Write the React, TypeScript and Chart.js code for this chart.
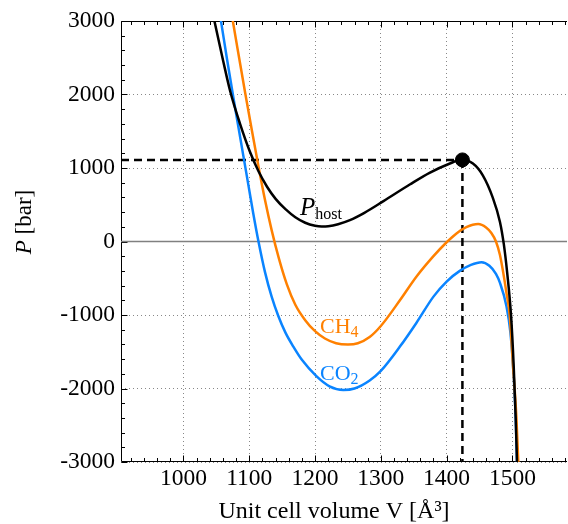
import { useEffect, useRef } from "react";
import { Chart, registerables } from "chart.js";

Chart.register(...registerables);

// ---- data ----
const V_MIN = 905;
const V_MAX = 1583;
const P_MIN = -3000;
const P_MAX = 3000;

const volumeTicks = [1000, 1100, 1200, 1300, 1400, 1500];
const pressureTicks = [-3000, -2000, -1000, 0, 1000, 2000, 3000];

const hostV = [1040, 1047, 1060, 1071, 1086, 1101, 1114, 1127, 1140, 1155, 1170, 1185, 1200, 1210, 1220, 1235, 1253, 1275, 1304, 1344, 1374, 1405, 1422, 1440, 1455, 1470, 1481, 1487, 1492, 1498, 1502, 1505, 1507, 1509];
const hostP = [3300, 3000, 2470, 2045, 1600, 1220, 955, 745, 580, 440, 330, 255, 214, 204, 208, 235, 290, 390, 549, 775, 934, 1061, 1112, 1060, 900, 600, 270, -40, -420, -1016, -1700, -2400, -3000, -3600];

const co2V = [1050, 1057, 1066, 1076, 1084, 1091, 1099, 1106, 1114, 1124, 1134, 1144, 1155, 1167, 1180, 1202, 1222, 1243, 1260, 1283, 1300, 1329, 1354, 1380, 1400, 1420, 1437, 1453, 1465, 1475, 1481, 1491, 1497, 1501, 1505, 1507, 1509];
const co2P = [3400, 3000, 2490, 1950, 1530, 1165, 750, 385, 0, -420, -750, -1010, -1240, -1430, -1610, -1832, -1970, -2020, -2000, -1890, -1760, -1430, -1108, -750, -545, -400, -318, -281, -330, -440, -560, -880, -1240, -1700, -2380, -3000, -3500];

const ch4V = [1068, 1075, 1085, 1094, 1104, 1114, 1124, 1134, 1145, 1157, 1170, 1185, 1200, 1215, 1232, 1250, 1265, 1283, 1300, 1329, 1354, 1380, 1400, 1415, 1430, 1448, 1460, 1468, 1475, 1481, 1486, 1491, 1496, 1501, 1506, 1509, 1511];
const ch4P = [3400, 3000, 2476, 2010, 1510, 1020, 560, 155, -230, -580, -860, -1070, -1220, -1320, -1385, -1402, -1385, -1300, -1150, -800, -480, -200, -10, 110, 195, 237, 190, 115, 0, -180, -420, -700, -1016, -1700, -2380, -3000, -3500];

const markV = 1424;
const markP = 1110;

const HOST_COLOR = "#000000";
const CH4_COLOR = "#ff8000";
const CO2_COLOR = "#0a84ff";
const SERIF = '"Liberation Serif", "Times New Roman", serif';

const toPoints = (xs: number[], ys: number[]) => xs.map((x, i) => ({ x, y: ys[i] }));

const decorPlugin = {
  id: "decor",
  beforeDatasetsDraw(chart: any) {
    const { ctx, chartArea } = chart;
    const { left, right, top, bottom } = chartArea;
    const xs = chart.scales.x;
    const ys = chart.scales.y;
    ctx.save();
    ctx.strokeStyle = "#000";
    ctx.lineWidth = 1;
    ctx.beginPath();
    const L = Math.round(left) + 0.5;
    const B = Math.round(bottom) - 0.5;
    const T = Math.round(top) + 0.5;
    ctx.moveTo(L, T);
    ctx.lineTo(L, B);
    ctx.lineTo(right, B);
    ctx.moveTo(L, T);
    ctx.lineTo(right, T);
    for (let v = 920; v <= V_MAX; v += 20) {
      const major = v % 100 === 0;
      const len = major ? 6 : 3.5;
      const px = Math.round(xs.getPixelForValue(v)) + 0.5;
      ctx.moveTo(px, B);
      ctx.lineTo(px, B - len);
      ctx.moveTo(px, T);
      ctx.lineTo(px, T + len);
    }
    for (let v = P_MIN; v <= P_MAX; v += 200) {
      const major = v % 1000 === 0;
      const len = major ? 6 : 3.5;
      const py = Math.round(ys.getPixelForValue(v)) + 0.5;
      ctx.moveTo(L, py);
      ctx.lineTo(L + len, py);
    }
    ctx.stroke();
    ctx.restore();
  },
  afterDraw(chart: any) {
    const { ctx } = chart;
    ctx.save();
    ctx.textBaseline = "alphabetic";
    ctx.fillStyle = "#000";

    ctx.font = `24px ${SERIF}`;
    ctx.textAlign = "center";
    ctx.fillText("Unit cell volume V [Å³]", 334, 518);

    ctx.save();
    ctx.translate(31, 222);
    ctx.rotate(-Math.PI / 2);
    ctx.textAlign = "left";
    ctx.font = `italic 23px ${SERIF}`;
    const wP = ctx.measureText("P").width;
    ctx.font = `23px ${SERIF}`;
    const wRest = ctx.measureText(" [bar]").width;
    const startX = -(wP + wRest) / 2;
    ctx.font = `italic 23px ${SERIF}`;
    ctx.fillText("P", startX, 0);
    ctx.font = `23px ${SERIF}`;
    ctx.fillText(" [bar]", startX + wP, 0);
    ctx.restore();

    ctx.textAlign = "left";
    ctx.fillStyle = HOST_COLOR;
    ctx.font = `italic 25px ${SERIF}`;
    ctx.fillText("P", 300, 215);
    const wp = ctx.measureText("P").width;
    ctx.font = `16px ${SERIF}`;
    ctx.fillText("host", 300 + wp, 219);

    ctx.fillStyle = CH4_COLOR;
    ctx.font = `22px ${SERIF}`;
    ctx.fillText("CH", 320, 333);
    const wch = ctx.measureText("CH").width;
    ctx.font = `16px ${SERIF}`;
    ctx.fillText("4", 320 + wch, 337);

    ctx.fillStyle = CO2_COLOR;
    ctx.font = `22px ${SERIF}`;
    ctx.fillText("CO", 320, 380);
    const wco = ctx.measureText("CO").width;
    ctx.font = `16px ${SERIF}`;
    ctx.fillText("2", 320 + wco, 384);

    ctx.restore();
  },
};

export default function App() {
  const canvasRef = useRef<HTMLCanvasElement | null>(null);

  useEffect(() => {
    const canvas = canvasRef.current;
    if (!canvas) return;
    const tickFont = { family: SERIF, size: 23.5 };
    const curve = (label: string, xs: number[], ys: number[], color: string) => ({
      label,
      data: toPoints(xs, ys),
      borderColor: color,
      borderWidth: 2.5,
      pointRadius: 0,
      cubicInterpolationMode: "monotone",
    });
    const chart = new Chart(canvas, {
      type: "line",
      data: {
        datasets: [
          {
            label: "mark",
            data: [{ x: markV, y: markP }],
            showLine: false,
            pointRadius: 7,
            pointHoverRadius: 7,
            pointBackgroundColor: "#000",
            pointBorderColor: "#000",
            borderColor: "#000",
          },
          curve("host", hostV, hostP, HOST_COLOR),
          curve("CH4", ch4V, ch4P, CH4_COLOR),
          curve("CO2", co2V, co2P, CO2_COLOR),
          {
            label: "hdash",
            data: [
              { x: V_MIN, y: markP },
              { x: markV, y: markP },
            ],
            borderColor: "#000",
            borderWidth: 2.5,
            borderDash: [8, 5],
            pointRadius: 0,
          },
          {
            label: "vdash",
            data: [
              { x: markV, y: markP },
              { x: markV, y: P_MIN },
            ],
            borderColor: "#000",
            borderWidth: 2.5,
            borderDash: [8, 5],
            pointRadius: 0,
          },
          {
            label: "zero",
            data: [
              { x: V_MIN, y: 0 },
              { x: V_MAX, y: 0 },
            ],
            borderColor: "#808080",
            borderWidth: 1.5,
            pointRadius: 0,
          },
        ],
      },
      options: {
        responsive: false,
        animation: false,
        devicePixelRatio: 1,
        layout: { autoPadding: false, padding: { top: 21, right: 1, left: 0, bottom: 0 } },
        plugins: {
          legend: { display: false },
          tooltip: { enabled: false },
          title: { display: false },
        },
        scales: {
          x: {
            type: "linear",
            min: V_MIN,
            max: V_MAX,
            afterBuildTicks: (s: any) => {
              s.ticks = volumeTicks.map((v) => ({ value: v }));
            },
            afterFit: (s: any) => {
              s.height = 62;
              s.paddingLeft = 0;
              s.paddingRight = 0;
            },
            ticks: {
              font: tickFont,
              color: "#000",
              padding: 3,
              maxRotation: 0,
              autoSkip: false,
              callback: (v: any) => String(v),
            },
            grid: { color: "#888", lineWidth: 1, drawTicks: false },
            border: { display: false, dash: [1, 3] },
          },
          y: {
            type: "linear",
            min: P_MIN,
            max: P_MAX,
            afterBuildTicks: (s: any) => {
              s.ticks = pressureTicks.map((v) => ({ value: v }));
            },
            afterFit: (s: any) => {
              s.width = 121;
              s.paddingTop = 0;
              s.paddingBottom = 0;
            },
            ticks: {
              font: tickFont,
              color: "#000",
              padding: 6,
              autoSkip: false,
              callback: (v: any) => String(v),
            },
            grid: { color: "#888", lineWidth: 1, drawTicks: false },
            border: { display: false, dash: [1, 3] },
          },
        },
      },
      plugins: [decorPlugin],
    } as any);
    return () => chart.destroy();
  }, []);

  return (
    <div style={{ position: "fixed", left: 0, top: 0, width: 568, height: 524, background: "#fff" }}>
      <canvas ref={canvasRef} width={568} height={524} style={{ display: "block" }} />
    </div>
  );
}
